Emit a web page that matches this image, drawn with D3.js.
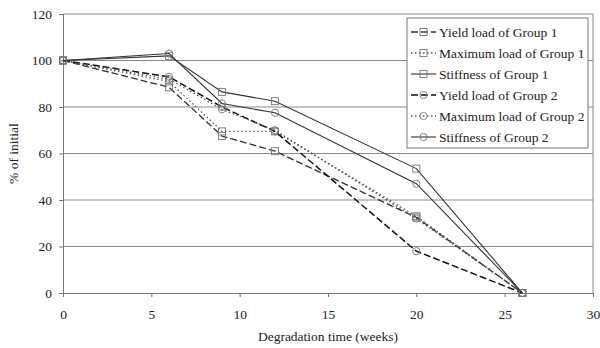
<!DOCTYPE html>
<html>
<head>
<meta charset="utf-8">
<script src="https://cdn.jsdelivr.net/npm/d3@7"></script>
<style>
  body { margin: 0; background: #fff; }
  text { font-family: "Liberation Serif", "Times New Roman", serif; }
</style>
</head>
<body>
<script>
// weeks of degradation
const weeks = [0, 6, 9, 12, 20, 26];

const yieldG1 = [100, 88.5, 67.5, 61, 32.5, 0];
const maxG1 = [100, 91, 69.5, 69.5, 33, 0];
const stiffG1 = [100, 102, 86.5, 82.5, 53.5, 0];
const yieldG2 = [100, 93, 80, 69.5, 18, 0];
const maxG2 = [100, 92, 79, 70, 32, 0];
const stiffG2 = [100, 103, 81.5, 77.5, 47, 0];

const xTicks = [0, 5, 10, 15, 20, 25, 30];
const yTicks = [0, 20, 40, 60, 80, 100, 120];

const seriesNames = [
  "Yield load of Group 1",
  "Maximum load of Group 1",
  "Stiffness of Group 1",
  "Yield load of Group 2",
  "Maximum load of Group 2",
  "Stiffness of Group 2",
];
const seriesValues = [yieldG1, maxG1, stiffG1, yieldG2, maxG2, stiffG2];

// look of each series: marker shape, dash pattern, line colour
const seriesStyle = [
  { marker: "square", dash: "7,3", color: "#333", width: 1.3 },
  { marker: "square", dash: "1.5,2.5", color: "#555", width: 1.3 },
  { marker: "square", dash: null, color: "#333", width: 1.1 },
  { marker: "circle", dash: "7,3", color: "#111", width: 1.5 },
  { marker: "circle", dash: "1.5,2.5", color: "#555", width: 1.3 },
  { marker: "circle", dash: null, color: "#333", width: 1.1 },
];

const W = 600, H = 348;
const margin = { top: 14, right: 7, bottom: 55, left: 63 };
const width = W - margin.left - margin.right;
const height = H - margin.top - margin.bottom;
const fontSize = 13.5;

const svg = d3
  .select("body")
  .append("svg")
  .attr("width", W)
  .attr("height", H);

const g = svg
  .append("g")
  .attr("transform", `translate(${margin.left},${margin.top})`);

const xScale = d3.scaleLinear().domain([0, 30]).range([0, width]);
const yScale = d3.scaleLinear().domain([0, 120]).range([height, 0]);

// horizontal gridlines
g.append("g")
  .selectAll("line")
  .data(yTicks.filter((d) => d > 0))
  .enter()
  .append("line")
  .attr("x1", 0)
  .attr("x2", width)
  .attr("y1", (d) => yScale(d))
  .attr("y2", (d) => yScale(d))
  .attr("stroke", "#8a8a8a")
  .attr("stroke-width", 1);

// right border of plot area
g.append("line")
  .attr("x1", width)
  .attr("x2", width)
  .attr("y1", 0)
  .attr("y2", height)
  .attr("stroke", "#8a8a8a");

// axes
const xAxis = g
  .append("g")
  .attr("transform", `translate(0,${height})`)
  .call(d3.axisBottom(xScale).tickValues(xTicks).tickSize(4).tickPadding(12));
const yAxis = g
  .append("g")
  .call(d3.axisLeft(yScale).tickValues(yTicks).tickSize(4).tickPadding(7));

[xAxis, yAxis].forEach((a) => {
  a.select(".domain").attr("stroke", "#777");
  a.selectAll(".tick line").attr("stroke", "#777");
  a.selectAll("text")
    .attr("font-family", '"Liberation Serif", serif')
    .attr("font-size", fontSize)
    .attr("fill", "#222");
});

// axis titles
svg
  .append("text")
  .attr("x", margin.left + xScale(15))
  .attr("y", 341)
  .attr("text-anchor", "middle")
  .attr("font-size", fontSize)
  .attr("fill", "#222")
  .text("Degradation time (weeks)");

svg
  .append("text")
  .attr("transform", `translate(18,${margin.top + yScale(60)}) rotate(-90)`)
  .attr("text-anchor", "middle")
  .attr("font-size", fontSize)
  .attr("fill", "#222")
  .text("% of initial");

const drawMarker = (sel, type, x, y, color) => {
  if (type === "square") {
    sel
      .append("rect")
      .attr("x", x - 3.5)
      .attr("y", y - 3.5)
      .attr("width", 7)
      .attr("height", 7)
      .attr("fill", "none")
      .attr("stroke", color)
      .attr("stroke-width", 0.9);
  } else {
    sel
      .append("circle")
      .attr("cx", x)
      .attr("cy", y)
      .attr("r", 3.6)
      .attr("fill", "none")
      .attr("stroke", color)
      .attr("stroke-width", 0.9);
  }
};

const line = d3
  .line()
  .x((d) => xScale(d[0]))
  .y((d) => yScale(d[1]));

// series lines and markers
seriesValues.forEach((vals, i) => {
  const st = seriesStyle[i];
  const pts = weeks.map((w, j) => [w, vals[j]]);
  g.append("path")
    .datum(pts)
    .attr("fill", "none")
    .attr("stroke", st.color)
    .attr("stroke-width", st.width)
    .attr("stroke-dasharray", st.dash)
    .attr("d", line);
  const mg = g.append("g");
  pts.forEach((p) =>
    drawMarker(mg, st.marker, xScale(p[0]), yScale(p[1]), "#777"),
  );
});

// legend
const legend = svg.append("g").attr("transform", "translate(407,18)");
legend
  .append("rect")
  .attr("width", 181)
  .attr("height", 130)
  .attr("fill", "#fff")
  .attr("stroke", "#777");

seriesNames.forEach((name, i) => {
  const st = seriesStyle[i];
  const y = 14 + i * 21;
  legend
    .append("line")
    .attr("x1", 4)
    .attr("x2", 29)
    .attr("y1", y)
    .attr("y2", y)
    .attr("stroke", st.color)
    .attr("stroke-width", st.width)
    .attr("stroke-dasharray", st.dash);
  drawMarker(legend, st.marker, 16.5, y, "#777");
  legend
    .append("text")
    .attr("x", 32)
    .attr("y", y + 4.5)
    .attr("font-size", fontSize)
    .attr("fill", "#222")
    .text(name);
});
</script>
</body>
</html>
